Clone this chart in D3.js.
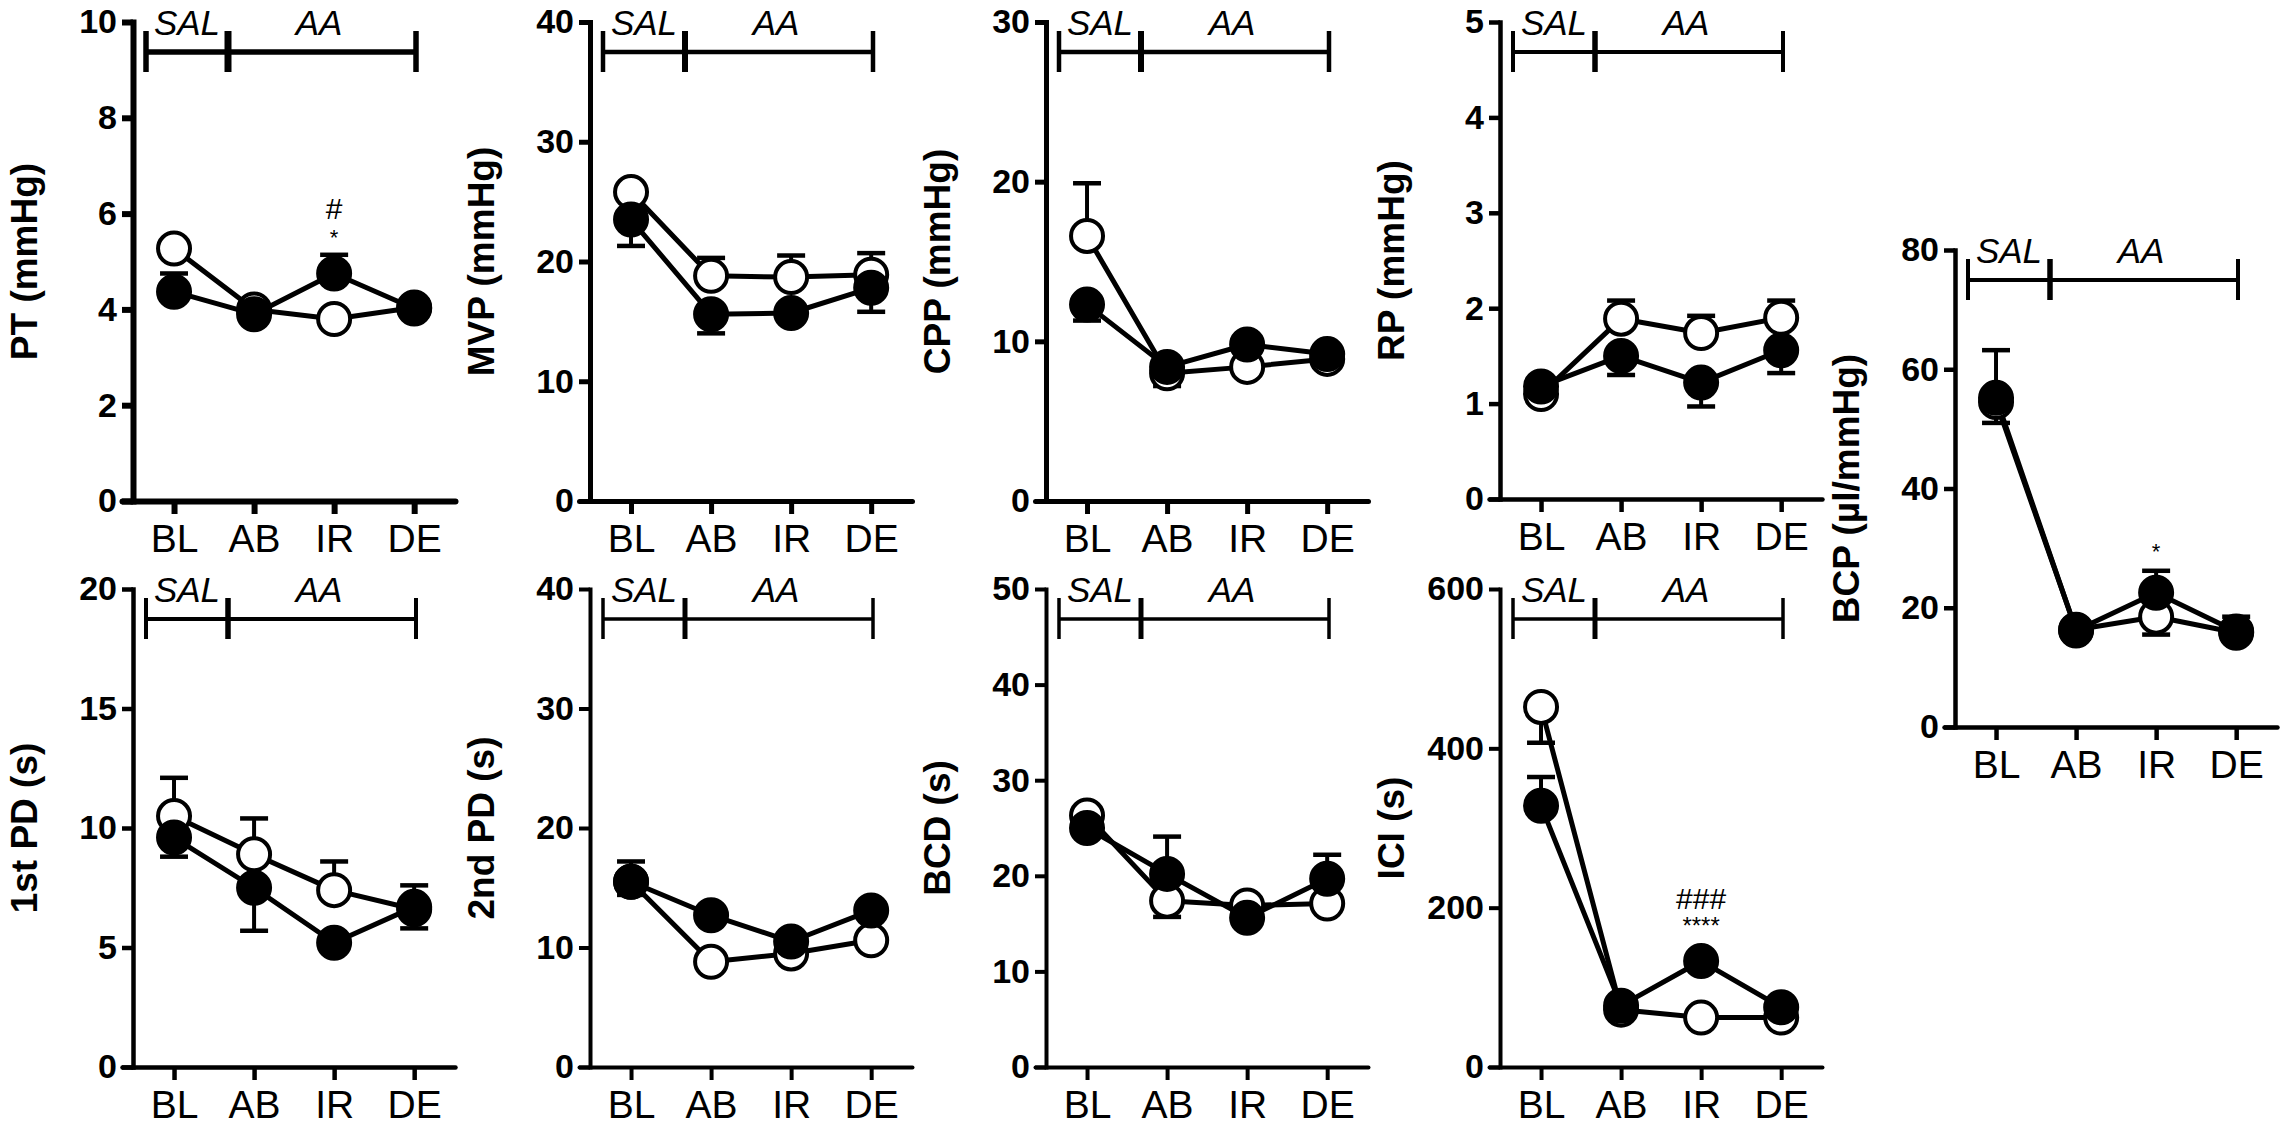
<!DOCTYPE html>
<html>
<head>
<meta charset="utf-8">
<script src="https://cdn.jsdelivr.net/npm/d3@7"></script>
<style>
  body { margin: 0; background: #fff; }
  svg { display: block; font-family: "Liberation Sans", Arial, sans-serif; }
</style>
</head>
<body>
<div id="chart"></div>
<script>
// timepoints
const groups = ["BL", "AB", "IR", "DE"];

// open circles = one group, filled = the other; err > 0 drawn up, err < 0 drawn down
const ptOpen = [5.27, 4.0, 3.8, 4.04];
const ptOpenErr = [0, 0.15, 0, 0];
const ptFilled = [4.37, 3.9, 4.75, 4.02];
const ptFilledErr = [0.38, 0, 0.39, 0];

const mvpOpen = [25.8, 18.8, 18.7, 18.9];
const mvpOpenErr = [0, 1.5, 1.8, 1.8];
const mvpFilled = [23.5, 15.6, 15.7, 17.8];
const mvpFilledErr = [-2.2, -1.6, 0, -2.0];

const cppOpen = [16.6, 8.0, 8.4, 8.9];
const cppOpenErr = [3.3, 0, 0, 0];
const cppFilled = [12.3, 8.4, 9.8, 9.2];
const cppFilledErr = [-1.0, -1.2, 0, 0];

const rpOpen = [1.1, 1.89, 1.74, 1.9];
const rpOpenErr = [0, 0.19, 0.18, 0.18];
const rpFilled = [1.18, 1.5, 1.22, 1.56];
const rpFilledErr = [0.08, -0.2, -0.25, -0.24];

const bcpOpen = [54.5, 16.3, 18.5, 15.8];
const bcpOpenErr = [-3.5, 0, -3, 0];
const bcpFilled = [55.2, 16.2, 22.5, 16.0];
const bcpFilledErr = [8, 0, 3.7, 2.5];

const pd1Open = [10.5, 8.9, 7.4, 6.6];
const pd1OpenErr = [1.6, 1.5, 1.2, 1.0];
const pd1Filled = [9.6, 7.5, 5.2, 6.7];
const pd1FilledErr = [-0.8, -1.8, 0, -0.9];

const pd2Open = [15.5, 8.8, 9.5, 10.6];
const pd2OpenErr = [1.7, 0, 0, 0];
const pd2Filled = [15.5, 12.7, 10.5, 13.1];
const pd2FilledErr = [-1.1, 0, 0, 0];

const bcdOpen = [26.3, 17.4, 16.9, 17.1];
const bcdOpenErr = [0, -1.7, 0, 0];
const bcdFilled = [25.0, 20.2, 15.6, 19.7];
const bcdFilledErr = [0, 3.9, 0, 2.5];

const iciOpen = [452, 72, 62, 62];
const iciOpenErr = [-45, 0, 0, 0];
const iciFilled = [328, 77, 133, 75];
const iciFilledErr = [36, 0, 0, 0];

// y tick labels per panel
const ptTicks = [0, 2, 4, 6, 8, 10];
const mvpTicks = [0, 10, 20, 30, 40];
const cppTicks = [0, 10, 20, 30];
const rpTicks = [0, 1, 2, 3, 4, 5];
const bcpTicks = [0, 20, 40, 60, 80];
const pd1Ticks = [0, 5, 10, 15, 20];
const pd2Ticks = [0, 10, 20, 30, 40];
const bcdTicks = [0, 10, 20, 30, 40, 50];
const iciTicks = [0, 200, 400, 600];

// significance marks: [group index, value, text, size]
const ptMarks = [[2, 6.1, "#", 30], [2, 5.5, "*", 22]];
const bcpMarks = [[2, 29.5, "*", 22]];
const iciMarks = [[2, 212, "###", 30], [2, 178, "****", 24]];

const svg = d3.select("#chart").append("svg")
    .attr("width", 2281)
    .attr("height", 1125);

// layout: y-axis x position, plot top and bottom (pixels), stroke width
const panels = [
    { title: "PT (mmHg)", ticks: ptTicks, open: ptOpen, openErr: ptOpenErr, filled: ptFilled, filledErr: ptFilledErr, marks: ptMarks, x0: 133, top: 22, bottom: 501, sw: 6 },
    { title: "MVP (mmHg)", ticks: mvpTicks, open: mvpOpen, openErr: mvpOpenErr, filled: mvpFilled, filledErr: mvpFilledErr, marks: [], x0: 590, top: 22, bottom: 501, sw: 5 },
    { title: "CPP (mmHg)", ticks: cppTicks, open: cppOpen, openErr: cppOpenErr, filled: cppFilled, filledErr: cppFilledErr, marks: [], x0: 1046, top: 22, bottom: 501, sw: 5 },
    { title: "RP (mmHg)", ticks: rpTicks, open: rpOpen, openErr: rpOpenErr, filled: rpFilled, filledErr: rpFilledErr, marks: [], x0: 1500, top: 22, bottom: 499, sw: 4.5 },
    { title: "BCP (\u00b5l/mmHg)", ticks: bcpTicks, open: bcpOpen, openErr: bcpOpenErr, filled: bcpFilled, filledErr: bcpFilledErr, marks: bcpMarks, x0: 1955, top: 250, bottom: 727, sw: 4.5 },
    { title: "1st PD (s)", ticks: pd1Ticks, open: pd1Open, openErr: pd1OpenErr, filled: pd1Filled, filledErr: pd1FilledErr, marks: [], x0: 133, top: 589, bottom: 1067, sw: 4.5 },
    { title: "2nd PD (s)", ticks: pd2Ticks, open: pd2Open, openErr: pd2OpenErr, filled: pd2Filled, filledErr: pd2FilledErr, marks: [], x0: 590, top: 589, bottom: 1067, sw: 4 },
    { title: "BCD (s)", ticks: bcdTicks, open: bcdOpen, openErr: bcdOpenErr, filled: bcdFilled, filledErr: bcdFilledErr, marks: [], x0: 1046, top: 589, bottom: 1067, sw: 4 },
    { title: "ICI (s)", ticks: iciTicks, open: iciOpen, openErr: iciOpenErr, filled: iciFilled, filledErr: iciFilledErr, marks: iciMarks, x0: 1500, top: 589, bottom: 1067, sw: 4 }
];

const R = 16;

panels.forEach(p => {
    const g = svg.append("g");
    const x = d3.scaleLinear().domain([-0.65, 3.51]).range([p.x0 - 11, p.x0 + 322]);
    const y = d3.scaleLinear().domain([0, d3.max(p.ticks)]).range([p.bottom, p.top]);

    // y axis
    const ya = g.append("g")
        .attr("transform", `translate(${p.x0},0)`)
        .call(d3.axisLeft(y).tickValues(p.ticks).tickFormat(d3.format("d"))
            .tickSize(11).tickSizeOuter(0).tickPadding(5));
    ya.select(".domain").attr("stroke-width", p.sw).attr("stroke-linecap", "square");
    ya.selectAll(".tick line").attr("stroke-width", p.sw);
    ya.selectAll(".tick text")
        .style("font-size", "34px")
        .style("font-weight", "bold")
        .attr("fill", "#000");

    // x axis
    const xa = g.append("g")
        .attr("transform", `translate(0,${p.bottom})`)
        .call(d3.axisBottom(x).tickValues([0, 1, 2, 3]).tickFormat(i => groups[i])
            .tickSize(13).tickSizeOuter(0).tickPadding(10));
    xa.select(".domain").attr("stroke-width", p.sw).attr("stroke-linecap", "round");
    xa.selectAll(".tick line").attr("stroke-width", p.sw);
    xa.selectAll(".tick text")
        .style("font-size", "39px")
        .attr("fill", "#000");

    // y title
    g.append("text")
        .attr("transform", `translate(${p.x0 - 96},${(p.top + p.bottom) / 2}) rotate(-90)`)
        .attr("text-anchor", "middle")
        .style("font-size", "37px")
        .style("font-weight", "bold")
        .text(p.title);

    // SAL / AA bracket
    const by = p.top + 30;
    const bx0 = p.x0 + 13, bx1 = p.x0 + 95, bx2 = p.x0 + 283;
    const bw = p.sw - 0.5;
    g.append("line").attr("x1", bx0).attr("x2", bx2).attr("y1", by).attr("y2", by)
        .attr("stroke", "#000").attr("stroke-width", bw);
    [bx0, bx1, bx2].forEach(bx => {
        g.append("line").attr("x1", bx).attr("x2", bx).attr("y1", by - 21).attr("y2", by + 20)
            .attr("stroke", "#000").attr("stroke-width", bw + (bx === bx1 ? 1.5 : 0));
    });
    g.append("text").attr("x", p.x0 + 54).attr("y", p.top + 13)
        .attr("text-anchor", "middle").style("font-size", "35px").style("font-style", "italic")
        .text("SAL");
    g.append("text").attr("x", p.x0 + 186).attr("y", p.top + 13)
        .attr("text-anchor", "middle").style("font-size", "35px").style("font-style", "italic")
        .text("AA");

    const line = d3.line().x((d, i) => x(i)).y(d => y(d));

    // lines
    [p.open, p.filled].forEach(vals => {
        g.append("path").datum(vals)
            .attr("d", line)
            .attr("fill", "none")
            .attr("stroke", "#000")
            .attr("stroke-width", 5)
            .attr("stroke-linejoin", "round");
    });

    // error bars
    [[p.open, p.openErr], [p.filled, p.filledErr]].forEach(([vals, errs]) => {
        vals.forEach((v, i) => {
            if (!errs[i]) return;
            const y1 = y(v), y2 = y(v + errs[i]);
            g.append("line").attr("x1", x(i)).attr("x2", x(i)).attr("y1", y1).attr("y2", y2)
                .attr("stroke", "#000").attr("stroke-width", 4);
            g.append("line").attr("x1", x(i) - 14).attr("x2", x(i) + 14).attr("y1", y2).attr("y2", y2)
                .attr("stroke", "#000").attr("stroke-width", 4.5);
        });
    });

    // markers
    g.selectAll(".open").data(p.open).enter().append("circle")
        .attr("cx", (d, i) => x(i)).attr("cy", d => y(d)).attr("r", R)
        .attr("fill", "#fff").attr("stroke", "#000").attr("stroke-width", 4);
    g.selectAll(".filled").data(p.filled).enter().append("circle")
        .attr("cx", (d, i) => x(i)).attr("cy", d => y(d)).attr("r", R)
        .attr("fill", "#000").attr("stroke", "#000").attr("stroke-width", 4);

    // significance marks
    p.marks.forEach(([i, v, t, s]) => {
        g.append("text").attr("x", x(i)).attr("y", y(v))
            .attr("dy", "0.35em")
            .attr("text-anchor", "middle")
            .style("font-size", s + "px")
            .text(t);
    });

    g.selectAll(".domain, .tick line").attr("stroke", "#000");
});
</script>
</body>
</html>
